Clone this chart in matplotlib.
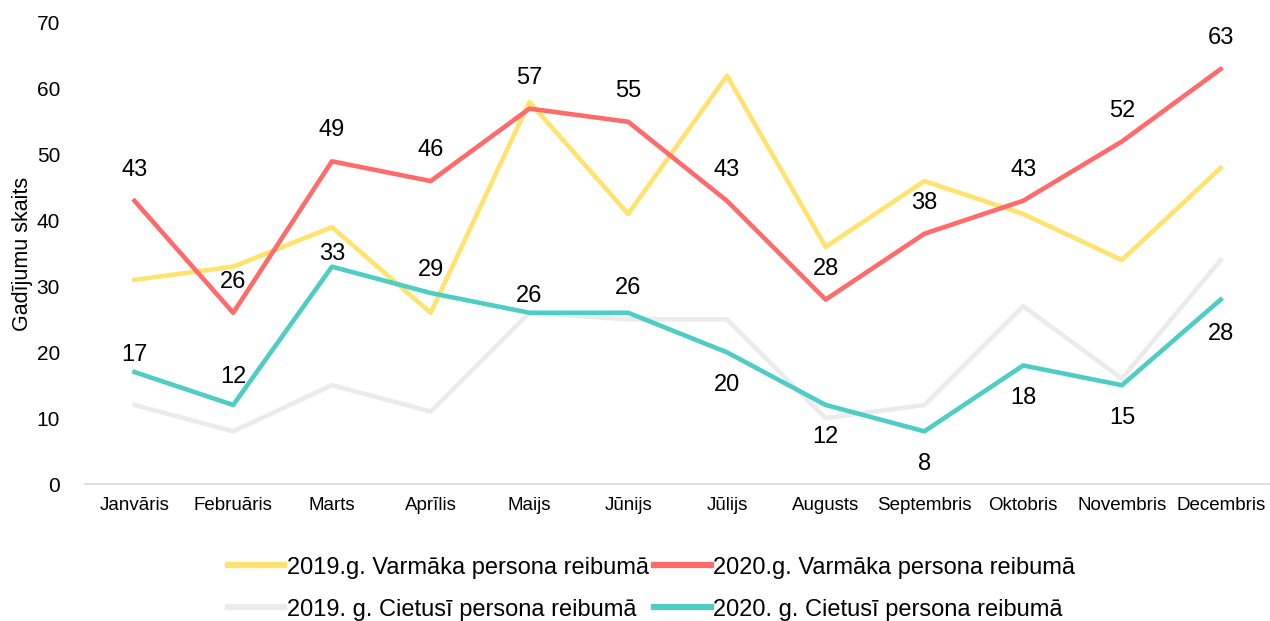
import matplotlib.pyplot as plt

plt.rcParams['font.family'] = ['Liberation Sans', 'DejaVu Sans']

# --- Data ---
months = ['Janvāris', 'Februāris', 'Marts', 'Aprīlis', 'Maijs', 'Jūnijs',
          'Jūlijs', 'Augusts', 'Septembris', 'Oktobris', 'Novembris', 'Decembris']
varm_2019 = [31, 33, 39, 26, 58, 41, 62, 36, 46, 41, 34, 48]
varm_2020 = [43, 26, 49, 46, 57, 55, 43, 28, 38, 43, 52, 63]
ciet_2019 = [12, 8, 15, 11, 26, 25, 25, 10, 12, 27, 16, 34]
ciet_2020 = [17, 12, 33, 29, 26, 26, 20, 12, 8, 18, 15, 28]

# label offsets (pixels) for the 2020 Cietusī labels, as placed in the original
ciet_2020_off = [17, 28, 13, 23, 17, 25, -33, -32, -33, -33, -33, -34]
varm_2020_off = 31

c_yellow = '#FFE36E'
c_red = '#FF6B6B'
c_gray = '#EBEBEB'
c_teal = '#4ECDC4'

fig = plt.figure(figsize=(12.7, 6.21), dpi=100)
ax = fig.add_axes([0.067, 0.2206, 0.933, 0.7424])

x = list(range(len(months)))
lw = 3.3
l1, = ax.plot(x, varm_2019, color=c_yellow, lw=lw, label='2019.g. Varmāka persona reibumā', zorder=2)
l2, = ax.plot(x, varm_2020, color=c_red, lw=lw, label='2020.g. Varmāka persona reibumā', zorder=3)
l3, = ax.plot(x, ciet_2019, color=c_gray, lw=lw, label='2019. g. Cietusī persona reibumā', zorder=2)
l4, = ax.plot(x, ciet_2020, color=c_teal, lw=lw, label='2020. g. Cietusī persona reibumā', zorder=4)

# --- Data labels ---
for xi, v in zip(x, varm_2020):
    ax.annotate(str(v), (xi, v), xytext=(0, varm_2020_off), textcoords='offset pixels',
                ha='center', va='center', fontsize=17, color='black')
for xi, v, off in zip(x, ciet_2020, ciet_2020_off):
    ax.annotate(str(v), (xi, v), xytext=(0, off), textcoords='offset pixels',
                ha='center', va='center', fontsize=17, color='black')

ax.set_xlim(-0.5, len(months) - 0.5)
ax.set_ylim(0, 70)
ax.set_yticks(range(0, 71, 10))
ax.set_xticks(x)
ax.set_xticklabels(months, fontsize=13.5)
ax.tick_params(axis='y', labelsize=15, length=0, pad=18)
ax.tick_params(axis='x', length=0, pad=9)
ax.set_ylabel('Gadījumu skaits', fontsize=15.5, labelpad=3)

for s in ['top', 'right', 'left']:
    ax.spines[s].set_visible(False)
ax.spines['bottom'].set_color('#D9D9D9')
ax.spines['bottom'].set_linewidth(1.2)

fig.legend([l1, l3, l2, l4], [l1.get_label(), l3.get_label(), l2.get_label(), l4.get_label()],
           ncol=2, loc='center', bbox_to_anchor=(0.513, 0.052), frameon=False,
           fontsize=17, handlelength=2.4, handletextpad=0.1, columnspacing=0.25,
           labelspacing=0.85)
for h in fig.legends[0].get_lines():
    h.set_linewidth(4.5)

fig.savefig('out.png', dpi=100)
